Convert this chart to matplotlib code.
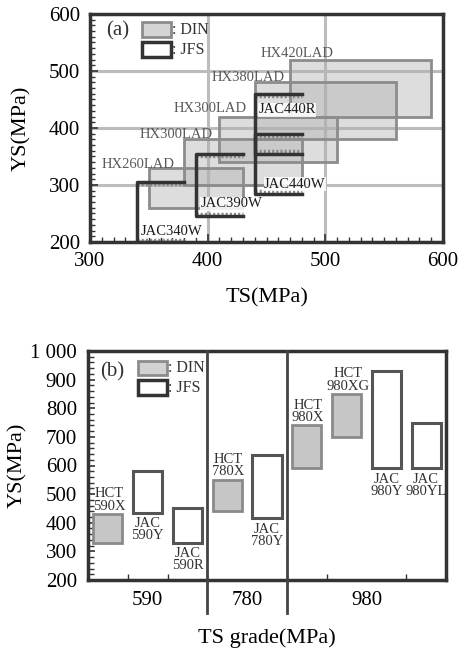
import matplotlib
matplotlib.use('Agg')
import matplotlib.pyplot as plt
from matplotlib.patches import Rectangle
from matplotlib.ticker import MultipleLocator, FixedLocator

plt.rcParams['font.family'] = ['Liberation Serif', 'DejaVu Serif']

# ---- (a) TS-YS ranges (MPa) ----
din_a_names = ['HX260LAD', 'HX300LAD', 'HX300LAD', 'HX380LAD', 'HX420LAD']
din_a_ts = [(350, 430), (380, 480), (410, 510), (440, 560), (470, 590)]
din_a_ys = [(260, 330), (300, 380), (340, 420), (380, 480), (420, 520)]

jfs_a_names = ['JAC340W', 'JAC390W', 'JAC440W', 'JAC440R']
jfs_a_ts = [(340, 380), (390, 430), (440, 480), (440, 480)]
jfs_a_ys = [(200, 305), (245, 355), (285, 390), (355, 460)]

# ---- (b) YS ranges per grade ----
b_names = ['HCT\n590X', 'JAC\n590Y', 'JAC\n590R', 'HCT\n780X', 'JAC\n780Y',
           'HCT\n980X', 'HCT\n980XG', 'JAC\n980Y', 'JAC\n980YL']
b_std = ['DIN', 'JFS', 'JFS', 'DIN', 'JFS', 'DIN', 'DIN', 'JFS', 'JFS']
b_ys = [(330, 430), (435, 580), (330, 450), (440, 550), (415, 635),
        (590, 740), (700, 850), (590, 930), (590, 750)]
grade_labels = ['590', '780', '980']

DARK = '#333333'
fig = plt.figure(figsize=(4.62, 6.54), dpi=100)

# ===================== (a) =====================
ax = fig.add_axes([90/462, 1-242/654, 353/462, 228/654])
ax.set_xlim(300, 600)
ax.set_ylim(200, 600)
ax.set_xticks([300, 400, 500, 600])
ax.set_yticks([200, 300, 400, 500, 600])
ax.xaxis.set_minor_locator(MultipleLocator(10))
ax.yaxis.set_minor_locator(MultipleLocator(10))
ax.tick_params(which='both', direction='in', top=False, right=False, color=DARK)
ax.tick_params(which='major', length=6, width=1.2, labelsize=15, pad=7)
ax.tick_params(which='minor', length=3.5, width=1)
ax.grid(True, which='major', color='#bcbcbc', lw=2.2, zorder=0)
ax.set_axisbelow(True)
for s in ax.spines.values():
    s.set_color(DARK)
    s.set_linewidth(2.5)

for (x0, x1), (y0, y1) in zip(din_a_ts, din_a_ys):
    ax.add_patch(Rectangle((x0, y0), x1 - x0, y1 - y0, facecolor='#b0b0b0',
                           alpha=0.42, edgecolor='none', zorder=2))
    ax.add_patch(Rectangle((x0, y0), x1 - x0, y1 - y0, facecolor='none',
                           edgecolor='#8c8c8c', lw=2, zorder=2.5))

for (x0, x1), (y0, y1) in zip(jfs_a_ts, jfs_a_ys):
    # fuzzy inner band like the scanned original
    ax.plot([x0, x1], [y1 - 4, y1 - 4], color='#888888', lw=2.5,
            ls=(0, (0.6, 0.6)), zorder=3)
    ax.plot([x0, x1], [y0 + 4, y0 + 4], color='#888888', lw=2.5,
            ls=(0, (0.6, 0.6)), zorder=3)
    ax.plot([x1, x0, x0, x1], [y1, y1, y0, y0], color=DARK, lw=2.5,
            zorder=3.5, clip_on=True)

hx_off = [(-8, 0), (-6, 1), (-7, 3), (-5, 1), (5, 2)]
for name, (x0, x1), (y0, y1), off in zip(din_a_names, din_a_ts, din_a_ys, hx_off):
    ax.annotate(name, (x0, y1), xytext=off, textcoords='offset points',
                ha='center', va='baseline', fontsize=10.5, color='#5a5a5a', zorder=5)

jac_xy = [(343, 213), (394, 261), (448, 295), (443, 426)]
for name, (tx, ty) in zip(jfs_a_names, jac_xy):
    ax.text(tx, ty, name, ha='left', va='baseline', fontsize=10.5, color='#1a1a1a',
            zorder=6, bbox=dict(facecolor='white', edgecolor='none', pad=0.3, alpha=0.85))

# legend boxes
ax.add_patch(Rectangle((0.147, 0.899), 0.082, 0.066, transform=ax.transAxes,
                       facecolor='#d4d4d4', edgecolor='#8c8c8c', lw=2, zorder=6))
ax.add_patch(Rectangle((0.147, 0.811), 0.082, 0.066, transform=ax.transAxes,
                       facecolor='white', edgecolor=DARK, lw=2.5, zorder=6))
ax.text(0.232, 0.932, ': DIN', transform=ax.transAxes, va='center', fontsize=11.5, color='#333')
ax.text(0.232, 0.843, ': JFS', transform=ax.transAxes, va='center', fontsize=11.5, color='#333')
ax.text(0.079, 0.925, '(a)', transform=ax.transAxes, ha='center', va='center',
        fontsize=15, color='#333')

ax.set_xlabel('TS(MPa)', fontsize=16)
ax.set_ylabel('YS(MPa)', fontsize=16)
ax.xaxis.set_label_coords(0.5, -0.245)
ax.yaxis.set_label_coords(-0.195, 0.5)
ax.xaxis.label.set_va('center')
ax.yaxis.label.set_va('center')

# ===================== (b) =====================
bx = fig.add_axes([88/462, 1-580/654, 358/462, 229/654])
bx.set_xlim(0, 9)
bx.set_ylim(200, 1000)
yt = list(range(200, 1001, 100))
bx.set_yticks(yt)
bx.set_yticklabels([f'{v:,}'.replace(',', ' ') for v in yt])
bx.yaxis.set_minor_locator(MultipleLocator(20))
bx.set_xticks([1.5, 4, 7])
bx.set_xticklabels(grade_labels)
bx.xaxis.set_minor_locator(FixedLocator([1, 2, 3, 4, 5, 6, 7, 8]))
bx.tick_params(which='both', direction='in', top=False, right=False, color=DARK)
bx.tick_params(axis='y', which='major', length=5, width=1.2)
bx.tick_params(axis='x', which='major', length=0)
bx.tick_params(which='major', labelsize=15, pad=8)
bx.tick_params(which='minor', length=4, width=1)
for s in bx.spines.values():
    s.set_color(DARK)
    s.set_linewidth(2.5)

for sep in [3, 5]:
    bx.plot([sep, sep], [85, 1000], color='#444444', lw=2, clip_on=False, zorder=4)

w = 0.73
for i, (name, std, (y0, y1)) in enumerate(zip(b_names, b_std, b_ys)):
    xc = i + 0.5
    if std == 'DIN':
        bx.add_patch(Rectangle((xc - w/2, y0), w, y1 - y0, facecolor='#c6c6c6',
                               edgecolor='#8a8a8a', lw=2, zorder=3))
        bx.annotate(name, (xc, y1), xytext=(1, 1), textcoords='offset points',
                    ha='center', va='bottom', fontsize=10.5, color='#333',
                    linespacing=0.95, zorder=5)
    else:
        bx.add_patch(Rectangle((xc - w/2, y0), w, y1 - y0, facecolor='white',
                               edgecolor='#555555', lw=2.2, zorder=3))
        bx.annotate(name, (xc, y0), xytext=(0, -3), textcoords='offset points',
                    ha='center', va='top', fontsize=10.5, color='#333',
                    linespacing=0.95, zorder=5)

bx.add_patch(Rectangle((0.140, 0.895), 0.081, 0.061, transform=bx.transAxes,
                       facecolor='#d2d2d2', edgecolor='#8c8c8c', lw=2, zorder=6))
bx.add_patch(Rectangle((0.140, 0.808), 0.081, 0.065, transform=bx.transAxes,
                       facecolor='white', edgecolor=DARK, lw=2.5, zorder=6))
bx.text(0.223, 0.926, ': DIN', transform=bx.transAxes, va='center', fontsize=11.5, color='#333')
bx.text(0.223, 0.838, ': JFS', transform=bx.transAxes, va='center', fontsize=11.5, color='#333')
bx.text(0.067, 0.908, '(b)', transform=bx.transAxes, ha='center', va='center',
        fontsize=15, color='#333')

bx.set_xlabel('TS grade(MPa)', fontsize=16)
bx.set_ylabel('YS(MPa)', fontsize=16)
bx.xaxis.set_label_coords(0.5, -0.253)
bx.yaxis.set_label_coords(-0.196, 0.5)
bx.xaxis.label.set_va('center')
bx.yaxis.label.set_va('center')

fig.savefig('out.png', dpi=100)
